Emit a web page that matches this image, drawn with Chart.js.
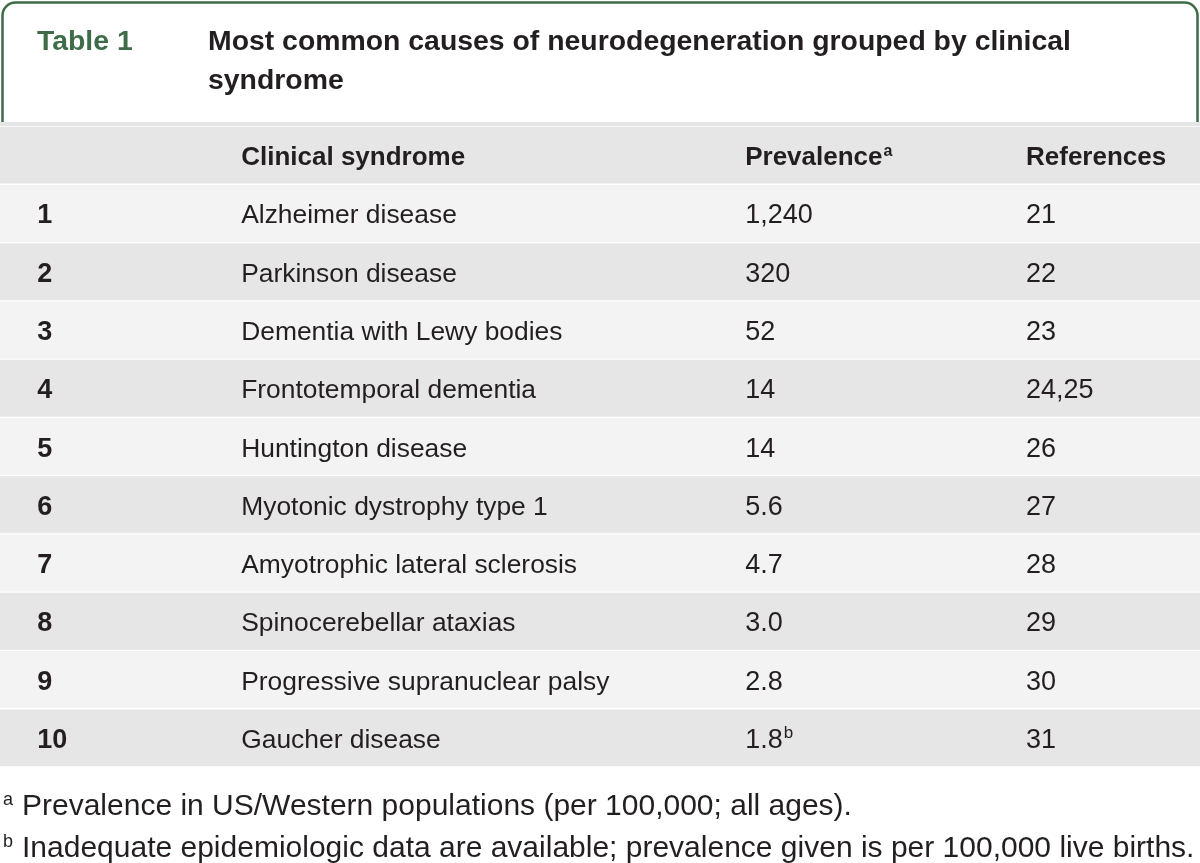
<!DOCTYPE html>
<html>
<head>
<meta charset="utf-8">
<script src="https://cdn.jsdelivr.net/npm/chart.js@4.4.1/dist/chart.umd.min.js"></script>
<style>
  body { margin: 0; background: #fff; }
</style>
</head>
<body>
<canvas id="table1" width="1200" height="863"></canvas>
<script>
const tableLabel = 'Table 1';
const titleLines = ['Most common causes of neurodegeneration grouped by clinical', 'syndrome'];
const headers = ['', 'Clinical syndrome', 'Prevalence', 'References'];
const headerNotes = ['', '', 'a', ''];
const ranks = ['1', '2', '3', '4', '5', '6', '7', '8', '9', '10'];
const syndromes = ['Alzheimer disease', 'Parkinson disease', 'Dementia with Lewy bodies',
  'Frontotemporal dementia', 'Huntington disease', 'Myotonic dystrophy type 1',
  'Amyotrophic lateral sclerosis', 'Spinocerebellar ataxias',
  'Progressive supranuclear palsy', 'Gaucher disease'];
const prevalence = ['1,240', '320', '52', '14', '14', '5.6', '4.7', '3.0', '2.8', '1.8'];
const prevalenceNotes = ['', '', '', '', '', '', '', '', '', 'b'];
const references = ['21', '22', '23', '24,25', '26', '27', '28', '29', '30', '31'];
const footnoteMarks = ['a', 'b'];
const footnoteTexts = ['Prevalence in US/Western populations (per 100,000; all ages).',
  'Inadequate epidemiologic data are available; prevalence given is per 100,000 live births.'];

// layout (fractions of the table width for each column start)
const colStart = [0.031, 0.201, 0.621, 0.855];
const FONT = '"Liberation Sans", Arial, sans-serif';
const GREEN = '#3e6c49';
const INK = '#231f20';

const rowLabels = ['header'].concat(ranks);

function drawSup(ctx, text, note, x, y, size, weight) {
  ctx.font = weight + ' ' + size + 'px ' + FONT;
  ctx.fillText(text, x, y);
  if (note) {
    const w = ctx.measureText(text).width;
    ctx.font = weight + ' ' + Math.round(size * 0.62) + 'px ' + FONT;
    ctx.fillText(note, x + w + 1, y - size * 0.36);
  }
}

const tablePlugin = {
  id: 'tablePlugin',
  beforeDraw(chart) {
    const ctx = chart.ctx;
    ctx.save();
    ctx.fillStyle = '#fff';
    ctx.fillRect(0, 0, chart.width, chart.height);
    // title box
    ctx.strokeStyle = GREEN;
    ctx.lineWidth = 2.5;
    const l = 2.5, r = 1197.5, t = 2.5, b = 124, rad = 13;
    ctx.beginPath();
    ctx.moveTo(l, b);
    ctx.lineTo(l, t + rad);
    ctx.arcTo(l, t, l + rad, t, rad);
    ctx.lineTo(r - rad, t);
    ctx.arcTo(r, t, r, t + rad, rad);
    ctx.lineTo(r, b);
    ctx.stroke();
    ctx.textBaseline = 'alphabetic';
    ctx.fillStyle = GREEN;
    ctx.font = 'bold 28.4px ' + FONT;
    ctx.fillText(tableLabel, 37, 50);
    ctx.fillStyle = INK;
    titleLines.forEach((line, i) => ctx.fillText(line, 208, 50 + i * 39));
    ctx.restore();
  },
  beforeDatasetsDraw(chart) {
    const ctx = chart.ctx;
    const area = chart.chartArea;
    ctx.save();
    ctx.fillStyle = '#e6e6e6';
    ctx.fillRect(0, 122, chart.width, area.top - 122 + 1);
    ctx.restore();
  },
  afterDatasetsDraw(chart) {
    const ctx = chart.ctx;
    const xs = chart.scales.x, ys = chart.scales.y;
    const cx = colStart.map(f => xs.getPixelForValue(f));
    ctx.save();
    ctx.fillStyle = INK;
    ctx.textBaseline = 'alphabetic';
    const hy = ys.getPixelForValue(0) + 10;
    headers.forEach((h, c) => drawSup(ctx, h, headerNotes[c], cx[c], hy, 26, 'bold'));
    ranks.forEach((rk, i) => {
      const y = ys.getPixelForValue(i + 1) + 10;
      drawSup(ctx, rk, '', cx[0], y, 27, 'bold');
      drawSup(ctx, syndromes[i], '', cx[1], y, 26.4, 'normal');
      drawSup(ctx, prevalence[i], prevalenceNotes[i], cx[2], y, 27, 'normal');
      drawSup(ctx, references[i], '', cx[3], y, 27, 'normal');
    });
    // footnotes under the table
    const fy0 = chart.chartArea.bottom + 48;
    footnoteTexts.forEach((txt, i) => {
      const y = fy0 + i * 42;
      ctx.font = 'normal 18px ' + FONT;
      ctx.fillText(footnoteMarks[i], 3, y - 10);
      ctx.font = 'normal 30px ' + FONT;
      ctx.fillText(txt, 22, y);
    });
    ctx.restore();
  }
};

new Chart(document.getElementById('table1'), {
  type: 'bar',
  data: {
    labels: rowLabels,
    datasets: [{
      data: rowLabels.map(() => [0, 1]),
      backgroundColor: rowLabels.map((_, i) => i % 2 === 0 ? '#e6e6e6' : '#f3f3f3'),
      borderColor: '#ffffff',
      borderWidth: { top: 1, bottom: 1, left: 0, right: 0 },
      borderSkipped: false,
      barPercentage: 1,
      categoryPercentage: 1
    }]
  },
  options: {
    indexAxis: 'y',
    responsive: false,
    animation: false,
    layout: { padding: { top: 126, bottom: 96, left: 0, right: 0 } },
    scales: {
      x: { type: 'linear', min: 0, max: 1, display: false },
      y: { display: false }
    },
    plugins: { legend: { display: false }, tooltip: { enabled: false } }
  },
  plugins: [tablePlugin]
});
</script>
</body>
</html>
